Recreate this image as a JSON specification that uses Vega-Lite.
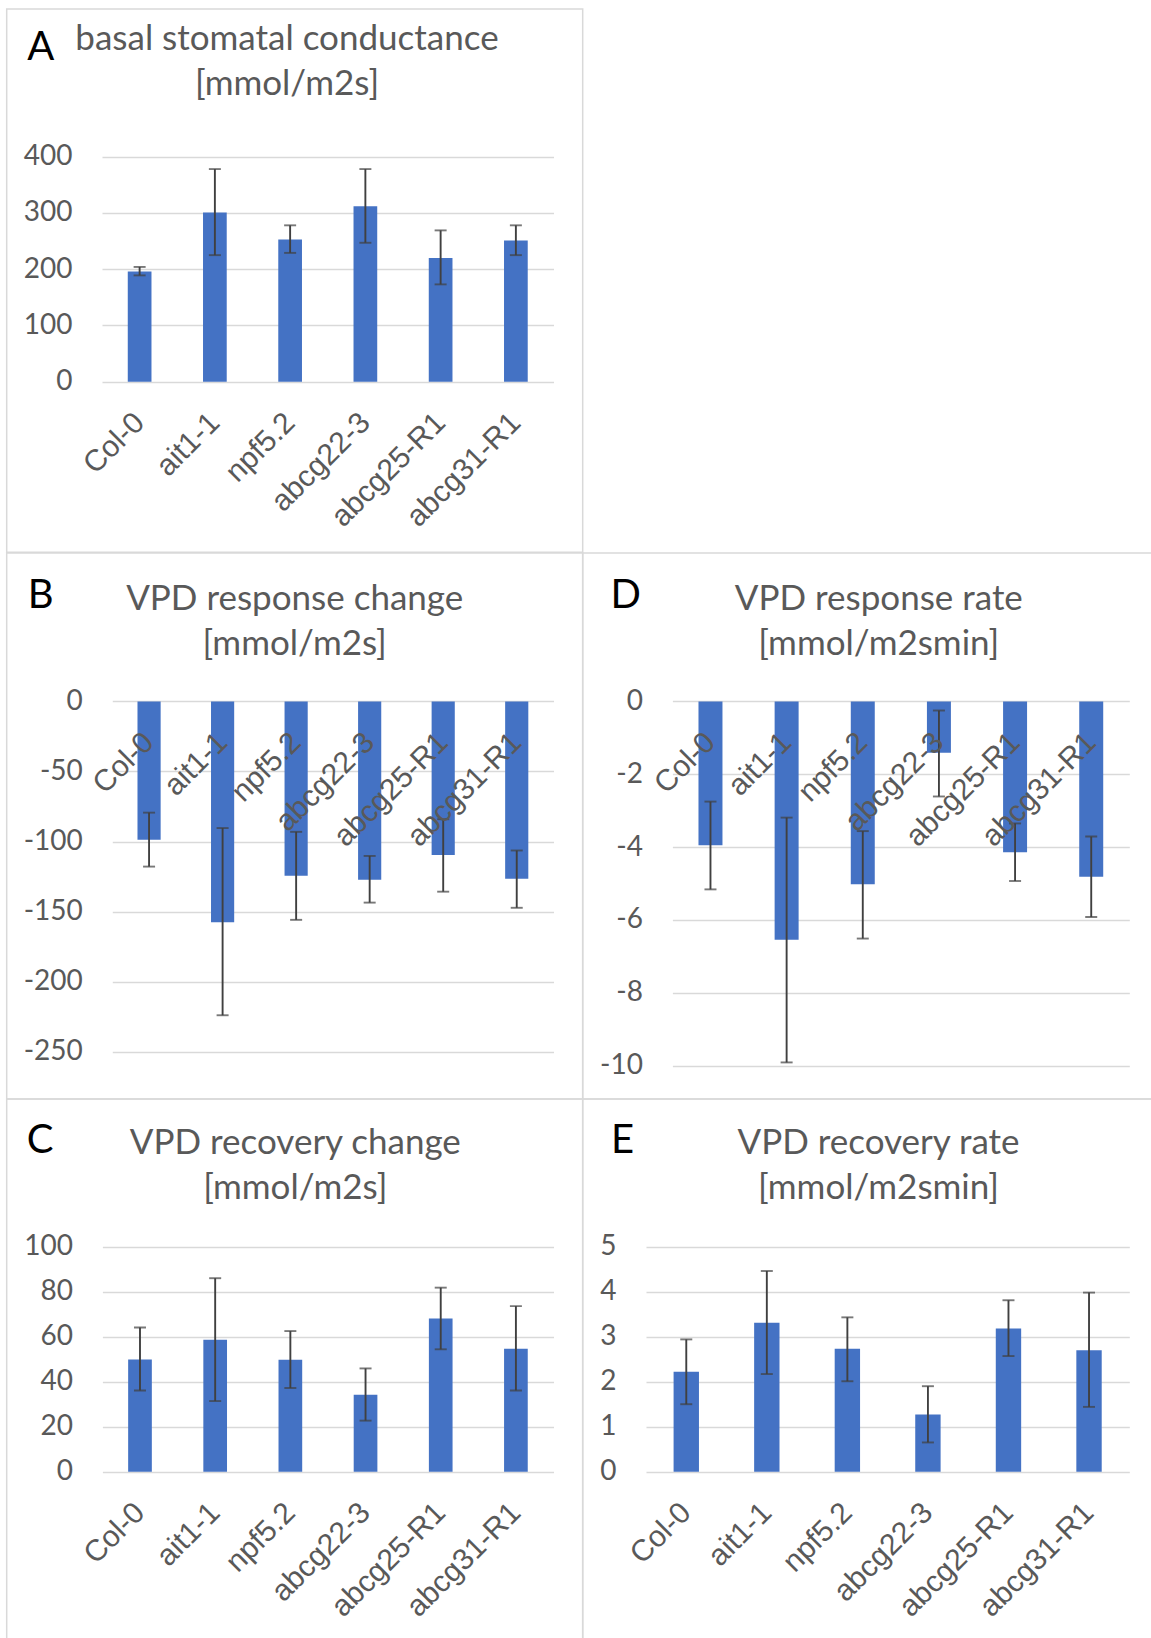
{
  "$schema": "https://vega.github.io/schema/vega-lite/v6.json",
  "background": "white",
  "padding": {"left": 5.7, "top": 8, "right": -32.7, "bottom": -22},
  "spacing": 0,
  "bounds": "flush",
  "columns": 2,
  "datasets": {
    "A": [
      {"genotype": "Col-0", "mean": 196, "lo": 189, "hi": 204},
      {"genotype": "ait1-1", "mean": 301, "lo": 225, "hi": 378},
      {"genotype": "npf5.2", "mean": 253, "lo": 229, "hi": 278},
      {"genotype": "abcg22-3", "mean": 312, "lo": 247, "hi": 378},
      {"genotype": "abcg25-R1", "mean": 220, "lo": 173, "hi": 269},
      {"genotype": "abcg31-R1", "mean": 251, "lo": 225, "hi": 278}
    ],
    "B": [
      {"genotype": "Col-0", "mean": -98.8, "lo": -117.9, "hi": -79.4},
      {"genotype": "ait1-1", "mean": -157.6, "lo": -224, "hi": -90.4},
      {"genotype": "npf5.2", "mean": -124.5, "lo": -155.9, "hi": -93.1},
      {"genotype": "abcg22-3", "mean": -127.2, "lo": -143.6, "hi": -110.3},
      {"genotype": "abcg25-R1", "mean": -109.6, "lo": -135.8, "hi": -84.1},
      {"genotype": "abcg31-R1", "mean": -126.5, "lo": -147.3, "hi": -106.4}
    ],
    "C": [
      {"genotype": "Col-0", "mean": 49.9, "lo": 36.1, "hi": 64.1},
      {"genotype": "ait1-1", "mean": 58.6, "lo": 31.4, "hi": 86},
      {"genotype": "npf5.2", "mean": 49.8, "lo": 37.2, "hi": 62.5},
      {"genotype": "abcg22-3", "mean": 34.2, "lo": 22.7, "hi": 45.9},
      {"genotype": "abcg25-R1", "mean": 68.1, "lo": 54.4, "hi": 81.8},
      {"genotype": "abcg31-R1", "mean": 54.6, "lo": 36.1, "hi": 73.6}
    ],
    "D": [
      {"genotype": "Col-0", "mean": -3.95, "lo": -5.16, "hi": -2.75},
      {"genotype": "ait1-1", "mean": -6.54, "lo": -9.91, "hi": -3.19},
      {"genotype": "npf5.2", "mean": -5.02, "lo": -6.51, "hi": -3.56},
      {"genotype": "abcg22-3", "mean": -1.41, "lo": -2.61, "hi": -0.25},
      {"genotype": "abcg25-R1", "mean": -4.14, "lo": -4.93, "hi": -3.35},
      {"genotype": "abcg31-R1", "mean": -4.81, "lo": -5.92, "hi": -3.71}
    ],
    "E": [
      {"genotype": "Col-0", "mean": 2.22, "lo": 1.50, "hi": 2.94},
      {"genotype": "ait1-1", "mean": 3.31, "lo": 2.17, "hi": 4.46},
      {"genotype": "npf5.2", "mean": 2.73, "lo": 2.01, "hi": 3.43},
      {"genotype": "abcg22-3", "mean": 1.27, "lo": 0.65, "hi": 1.90},
      {"genotype": "abcg25-R1", "mean": 3.18, "lo": 2.57, "hi": 3.81},
      {"genotype": "abcg31-R1", "mean": 2.70, "lo": 1.44, "hi": 3.98}
    ]
  },
  "config": {
    "view": {"stroke": "#d9d9d9", "strokeWidth": 1.5},
    "title": {"font": "Lato", "fontSize": 35, "fontWeight": "normal", "color": "#595959", "lineHeight": 45, "baseline": "top", "anchor": "middle"},
    "axis": {"domain": false, "ticks": false, "tickSize": 0, "labelColor": "#595959", "labelOverlap": false, "labelBound": false},
    "axisY": {"grid": true, "gridColor": "#d9d9d9", "gridWidth": 1.5, "labelFont": "Lato", "labelFontSize": 28, "labelPadding": 30, "labelExpr": "toString(datum.value)",
              "titleFont": "Lato", "titleFontSize": 40, "titleFontWeight": "normal", "titleColor": "black", "titleAngle": 0, "titleAlign": "center", "titleBaseline": "middle"},
    "axisX": {"grid": false, "labelFont": "Liberation Sans", "labelFontSize": 30, "labelAngle": -45, "labelAlign": "right", "labelBaseline": "middle", "labelPadding": 36, "zindex": 1}
  },
  "concat": [
    {
      "width": 576, "height": 543.3,
      "data": {"name": "A"},
      "title": {"text": ["basal stomatal conductance", "[mmol/m2s]"], "offset": -92.6, "dx": -7.7},
      "encoding": {"x": {"field": "genotype", "type": "nominal", "sort": null, "scale": {"range": [95.3, 546.8], "paddingInner": 0, "paddingOuter": 0}, "axis": {"title": null, "offset": -170.6, "zindex": 2}}},
      "layer": [
        {"mark": {"type": "bar", "width": {"band": 0.315}, "color": "#4472C4"},
         "encoding": {"y": {"field": "mean", "type": "quantitative", "scale": {"domain": [0, 400], "range": [372.7, 147.7]},
           "axis": {"values": [0, 100, 200, 300, 400], "labelExpr": "toString(datum.value)", "offset": -95.3, "title": "A", "titleX": -61.7, "titleY": 38}}}},
        {"mark": {"type": "rule", "color": "#404040", "strokeWidth": 1.9}, "encoding": {"y": {"field": "lo", "type": "quantitative"}, "y2": {"field": "hi"}}},
        {"mark": {"type": "tick", "color": "#404040", "thickness": 1.9, "size": 12, "orient": "horizontal"}, "encoding": {"y": {"field": "lo", "type": "quantitative"}}},
        {"mark": {"type": "tick", "color": "#404040", "thickness": 1.9, "size": 12, "orient": "horizontal"}, "encoding": {"y": {"field": "hi", "type": "quantitative"}}}
      ]
    },
    {
      "width": 600, "height": 543.3,
      "data": {"name": "A"},
      "transform": [{"filter": "false"}],
      "view": {"stroke": null},
      "mark": "point"
    },
    {
      "width": 576, "height": 546,
      "data": {"name": "B"},
      "title": {"text": ["VPD response change", "[mmol/m2s]"], "offset": -109, "dx": 0},
      "encoding": {"x": {"field": "genotype", "type": "nominal", "sort": null, "scale": {"range": [105.6, 546.8], "paddingInner": 0, "paddingOuter": 0}, "axis": {"title": null, "offset": -397.6, "zindex": 2}}},
      "layer": [
        {"mark": {"type": "bar", "width": {"band": 0.315}, "color": "#4472C4"},
         "encoding": {"y": {"field": "mean", "type": "quantitative", "scale": {"domain": [-250, 0], "range": [512.7, 148.4]},
           "axis": {"values": [-250, -200, -150, -100, -50, 0], "labelExpr": "toString(datum.value)", "offset": -105.6, "title": "B", "titleX": -72.2, "titleY": 42.7}}}},
        {"mark": {"type": "rule", "color": "#404040", "strokeWidth": 1.9}, "encoding": {"y": {"field": "lo", "type": "quantitative"}, "y2": {"field": "hi"}}},
        {"mark": {"type": "tick", "color": "#404040", "thickness": 1.9, "size": 12, "orient": "horizontal"}, "encoding": {"y": {"field": "lo", "type": "quantitative"}}},
        {"mark": {"type": "tick", "color": "#404040", "thickness": 1.9, "size": 12, "orient": "horizontal"}, "encoding": {"y": {"field": "hi", "type": "quantitative"}}}
      ]
    },
    {
      "width": 600, "height": 546,
      "data": {"name": "D"},
      "title": {"text": ["VPD response rate", "[mmol/m2smin]"], "offset": -109, "dx": -3.9},
      "encoding": {"x": {"field": "genotype", "type": "nominal", "sort": null, "scale": {"range": [89.7, 546.6], "paddingInner": 0, "paddingOuter": 0}, "axis": {"title": null, "offset": -397.6, "zindex": 2}}},
      "layer": [
        {"mark": {"type": "bar", "width": {"band": 0.315}, "color": "#4472C4"},
         "encoding": {"y": {"field": "mean", "type": "quantitative", "scale": {"domain": [-10, 0], "range": [512.7, 148.4]},
           "axis": {"values": [-10, -8, -6, -4, -2, 0], "labelExpr": "toString(datum.value)", "offset": -89.7, "title": "D", "titleX": -47.1, "titleY": 42.7}}}},
        {"mark": {"type": "rule", "color": "#404040", "strokeWidth": 1.9}, "encoding": {"y": {"field": "lo", "type": "quantitative"}, "y2": {"field": "hi"}}},
        {"mark": {"type": "tick", "color": "#404040", "thickness": 1.9, "size": 12, "orient": "horizontal"}, "encoding": {"y": {"field": "lo", "type": "quantitative"}}},
        {"mark": {"type": "tick", "color": "#404040", "thickness": 1.9, "size": 12, "orient": "horizontal"}, "encoding": {"y": {"field": "hi", "type": "quantitative"}}}
      ]
    },
    {
      "width": 576, "height": 560,
      "data": {"name": "C"},
      "title": {"text": ["VPD recovery change", "[mmol/m2s]"], "offset": -107.3, "dx": 0.6},
      "encoding": {"x": {"field": "genotype", "type": "nominal", "sort": null, "scale": {"range": [95.7, 546.8], "paddingInner": 0, "paddingOuter": 0}, "axis": {"title": null, "offset": -187.3, "zindex": 2}}},
      "layer": [
        {"mark": {"type": "bar", "width": {"band": 0.315}, "color": "#4472C4"},
         "encoding": {"y": {"field": "mean", "type": "quantitative", "scale": {"domain": [0, 100], "range": [372.7, 147.7]},
           "axis": {"values": [0, 20, 40, 60, 80, 100], "labelExpr": "toString(datum.value)", "offset": -95.7, "title": "C", "titleX": -62.9, "titleY": 41.5}}}},
        {"mark": {"type": "rule", "color": "#404040", "strokeWidth": 1.9}, "encoding": {"y": {"field": "lo", "type": "quantitative"}, "y2": {"field": "hi"}}},
        {"mark": {"type": "tick", "color": "#404040", "thickness": 1.9, "size": 12, "orient": "horizontal"}, "encoding": {"y": {"field": "lo", "type": "quantitative"}}},
        {"mark": {"type": "tick", "color": "#404040", "thickness": 1.9, "size": 12, "orient": "horizontal"}, "encoding": {"y": {"field": "hi", "type": "quantitative"}}}
      ]
    },
    {
      "width": 600, "height": 560,
      "data": {"name": "E"},
      "title": {"text": ["VPD recovery rate", "[mmol/m2smin]"], "offset": -107.3, "dx": -4.2},
      "encoding": {"x": {"field": "genotype", "type": "nominal", "sort": null, "scale": {"range": [63.3, 546.6], "paddingInner": 0, "paddingOuter": 0}, "axis": {"title": null, "offset": -187.3, "zindex": 2}}},
      "layer": [
        {"mark": {"type": "bar", "width": {"band": 0.315}, "color": "#4472C4"},
         "encoding": {"y": {"field": "mean", "type": "quantitative", "scale": {"domain": [0, 5], "range": [372.7, 147.7]},
           "axis": {"values": [0, 1, 2, 3, 4, 5], "labelExpr": "toString(datum.value)", "offset": -63.3, "title": "E", "titleX": -24, "titleY": 41.5}}}},
        {"mark": {"type": "rule", "color": "#404040", "strokeWidth": 1.9}, "encoding": {"y": {"field": "lo", "type": "quantitative"}, "y2": {"field": "hi"}}},
        {"mark": {"type": "tick", "color": "#404040", "thickness": 1.9, "size": 12, "orient": "horizontal"}, "encoding": {"y": {"field": "lo", "type": "quantitative"}}},
        {"mark": {"type": "tick", "color": "#404040", "thickness": 1.9, "size": 12, "orient": "horizontal"}, "encoding": {"y": {"field": "hi", "type": "quantitative"}}}
      ]
    }
  ]
}
